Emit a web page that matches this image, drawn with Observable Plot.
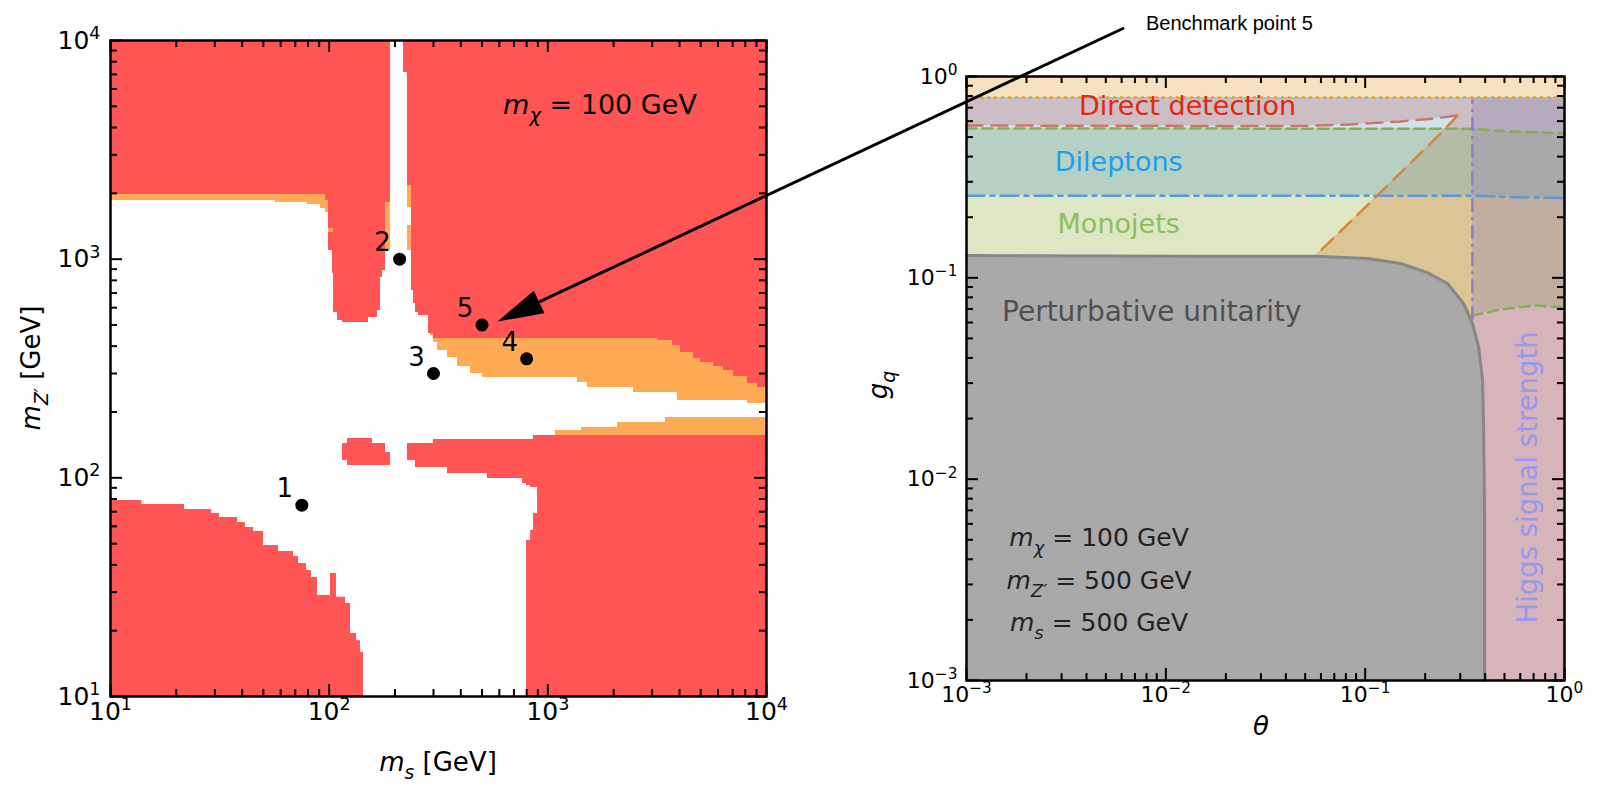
<!DOCTYPE html>
<html><head><meta charset="utf-8">
<script src="https://cdn.jsdelivr.net/npm/d3@7"></script>
<script src="https://cdn.jsdelivr.net/npm/@observablehq/plot@0.6"></script>
<style>
body{margin:0;background:#fff;}
#wrap{position:relative;width:1598px;height:785px;overflow:hidden;font-family:"DejaVu Sans",sans-serif;background:#fff;}
#left{position:absolute;left:0;top:0;}
#right{position:absolute;left:820px;top:0;}
#overlay{position:absolute;left:0;top:0;pointer-events:none;}
text{white-space:pre;}
</style></head><body>
<div id="wrap"><div id="left"></div><div id="right"></div><svg id="overlay" width="1598" height="785"></svg></div>
<script>
// ================= LEFT PANEL DATA (GeV) =================
const msDomain = [10, 1e4];
const mzDomain = [10, 1e4];
const leftTickValues = [10, 100, 1000, 10000];
const leftTickLabels = ["10^1", "10^2", "10^3", "10^4"];

// allowed (white) region: columns [m_s start, upper m_Z' edge], lower edge 10 GeV
const allowedTop = [[10,1855],[56.8,1816],[79.6,1778],[91.3,1704],[96.2,1634],[99.3,1095],[103.6,860],[104.7,570],[109.2,524],[115.1,513],[151.3,541],[166.3,582],[171.7,825],[175.4,888],[181,1095],[190.8,10000],[218.8,7139],[228.2,2172],[237.9,719],[243,627],[248.2,570],[256.2,552],[284.6,457],[290.7,448],[300.1,416],[312.9,382],[347.6,355],[386.3,323],[443,300],[502.8,288],[1367,273],[1518,259],[2465,246],[3916,226],[8186,219],[10000,219]];
// orange strips: [m_s start, lower m_Z', upper m_Z']
const orangeTopStrip = [[10,1855,1975],[56.8,1816,1975],[79.6,1778,1975],[91.3,1704,1975],[96.2,1634,1855],[99.3,1634,1634]];
// small orange cells: [m_s1, m_s2, m_Z'1, m_Z'2]
const orangeBits = [[99.3,104.7,1324,1381],[181,190.8,1095,1816],[228.2,237.9,1722,2172],[228.2,237.9,1095,1425]];
const orangeUpperBand = [[290.7,448,457],[300.1,416,434],[312.9,382,434],[347.6,355,434],[386.3,323,434],[443,300,434],[502.8,288,434],[1367,273,434],[1518,259,434],[2465,246,434],[3174,246,425],[3715,246,403],[3916,226,403],[4043,226,374],[4637,226,351],[4991,226,337],[5722,226,323],[6358,226,310],[7064,226,291],[8186,219,270],[9093,219,259],[10000,219,259]];
// excluded (red) pieces drawn over the allowed region
const redLowerLeft = [[10,78.8],[13.9,75.5],[21.8,71.6],[29,68.7],[31.5,65.9],[38.1,62.5],[41.4,59.3],[45.1,56.8],[50.1,49.0],[58.7,46.0],[68.7,43.7],[72.4,40.6],[78.8,37.7],[83.0,35.0],[88.4,29.0],[101.4,36.5],[108.0,28.4],[118.8,26.6],[125.2,19.4],[133.4,18.0],[139.1,15.9],[143.6,15.9]];
const redIsland = [[115.1,120.0,143.6],[121.3,113.8,151.3],[157.8,113.8,143.6],[181.0,113.8,130.6],[190.8,113.8,130.6]];
const redBand = [[228.2,120.0,143.6],[248.2,111.5,143.6],[300.1,111.5,149.7],[347.6,104.7,149.7],[529.7,99.3,149.7],[765.9,94.2,149.7],[799,92.2,149.7],[833.3,90.3,149.7],[859.9,90.3,156.1],[896.9,10,156.1],[10000,10,156.1]];
const redPocket = [[799,10,51.7],[833.3,10,57.4],[859.9,10,68.7],[896.9,10,68.7]];
const orangeLowerBand = [[1084,156.1,164.6],[1425,156.1,169.9],[2082,156.1,179.1],[3451,156.1,188.8],[10000,156.1,188.8]];
const benchmarks = [
  {label: "1", ms: 75, mz: 75},
  {label: "2", ms: 210, mz: 1000},
  {label: "3", ms: 300, mz: 300},
  {label: "4", ms: 800, mz: 350},
  {label: "5", ms: 500, mz: 500}
];
const leftNote = {ms: 1741, mz: 5097};

// ================= RIGHT PANEL DATA =================
const thetaDomain = [1e-3, 1];
const gqDomain = [1e-3, 1];
const rightTickValues = [0.001, 0.01, 0.1, 1];
const rightTickLabels = ["10^\u22123", "10^\u22122", "10^\u22121", "10^0"];
const gqDotted = 0.787;
const gqDottedBlue = 0.781;
const thetaHiggs = 0.345;
const ddLine = [[0.001,0.571],[0.02,0.568],[0.05,0.568],[0.0845,0.578],[0.1507,0.598],[0.2205,0.618],[0.291,0.640]];
const ddDiagonal = [[0.291,0.640],[0.253,0.552],[0.1153,0.2566],[0.0564,0.129]];
const monojetUpper = [[0.001,0.552],[0.345,0.550],[0.5,0.535],[1,0.522]];
const monojetLower = [[0.345,0.065],[0.478,0.0696],[0.70,0.0729],[1,0.0712]];
const dileptonLine = [[0.001,0.256],[0.345,0.256],[0.5,0.252],[1,0.249]];
const unitarity = [[0.001,0.129],[0.0149,0.128],[0.0564,0.128],[0.1028,0.1247],[0.1507,0.1178],[0.2056,0.1062],[0.2588,0.0937],[0.312,0.0745],[0.346,0.0593],[0.371,0.0451],[0.388,0.0309],[0.393,0.0174],[0.397,0.00675],[0.397,0.001]];
const higgsLineBottom = 0.0613;
const hiddenFloor = 0.04;
const rightLabels = [
  {text: "Direct detection", theta: 0.01285, gq: 0.7096, key: "dd", size: 27},
  {text: "Dileptons", theta: 0.0058, gq: 0.374, key: "dl", size: 27},
  {text: "Monojets", theta: 0.0058, gq: 0.184, key: "mj", size: 27},
  {text: "Perturbative unitarity", theta: 0.0085, gq: 0.068, key: "pu", size: 28}
];
const higgsLabel = {text: "Higgs signal strength", theta: 0.661, gq: 0.0102};
const paramNotes = [
  {theta: 0.00465, gq: 0.00513, sub: "\u03c7", val: "100 GeV"},
  {theta: 0.00465, gq: 0.003135, sub: "Z\u2032", val: "500 GeV"},
  {theta: 0.00465, gq: 0.00194, sub: "s", val: "500 GeV"}
];

// ================= STYLES =================
const RED = "#FF5555", ORANGE = "#FFAA55";
const C = {peach:"#F6E0BF", mauve:"#CBBEC4", lightBlue:"#CFE3EC", teal:"#B6D0C4", yellow:"#DFE6C4",
  greyGreen:"#B4BBA7", tan:"#DBC595", pink:"#D6B4BA", brown:"#C1AEA0", grey:"#A9A8AA",
  purpleGrey:"#B6AABD", unit:"#A9A9A9"};
const labelColor = {dd:"#E5260E", dl:"#1A9FF0", mj:"#8CBF5C", pu:"#505050"};
const FONT = "DejaVu Sans";

function minorOf(major) {
  const out = [];
  for (let i = 0; i < major.length - 1; i++) for (let k = 2; k <= 9; k++) out.push(major[i] * k);
  return out;
}
function tickMarks(major, fw, fh) {
  const minor = minorOf(major);
  const s = {stroke: "black", strokeWidth: 2};
  return [
    Plot.tickX(major, {x: d => d, insetTop: fh - 12, ...s}),
    Plot.tickX(major, {x: d => d, insetBottom: fh - 12, ...s}),
    Plot.tickX(minor, {x: d => d, insetTop: fh - 7, ...s}),
    Plot.tickX(minor, {x: d => d, insetBottom: fh - 7, ...s}),
    Plot.tickY(major, {y: d => d, insetRight: fw - 12, ...s}),
    Plot.tickY(major, {y: d => d, insetLeft: fw - 12, ...s}),
    Plot.tickY(minor, {y: d => d, insetRight: fw - 7, ...s}),
    Plot.tickY(minor, {y: d => d, insetLeft: fw - 7, ...s})
  ];
}
const stepArea = (data, fill) => Plot.areaY(data, {x: d => d[0], y1: d => d[1], y2: d => d[2], curve: "step-after", fill});
const stepAreaFromFloor = (data, fill) => Plot.areaY(data, {x: d => d[0], y1: msDomain[0], y2: d => d[1], curve: "step-after", fill});
const cellRects = (data, fill) => Plot.rect(data, {x1: d => d[0], x2: d => d[1], y1: d => d[2], y2: d => d[3], fill});

// ================= LEFT PLOT =================
const LW = 800, LH = 785, Lm = {t: 40, r: 34, b: 89, l: 110};
const lfw = LW - Lm.l - Lm.r, lfh = LH - Lm.t - Lm.b;
const leftPlot = Plot.plot({
  width: LW, height: LH, marginTop: Lm.t, marginRight: Lm.r, marginBottom: Lm.b, marginLeft: Lm.l,
  x: {type: "log", domain: msDomain, axis: null},
  y: {type: "log", domain: mzDomain, axis: null},
  style: {fontFamily: FONT, fontSize: "24px", background: "transparent", overflow: "visible"},
  marks: [
    Plot.frame({fill: RED}),
    stepAreaFromFloor(allowedTop, "#ffffff"),
    stepArea(orangeTopStrip, ORANGE),
    cellRects(orangeBits, ORANGE),
    stepArea(orangeUpperBand, ORANGE),
    stepAreaFromFloor(redLowerLeft, RED),
    stepArea(redIsland, RED),
    stepArea(redBand, RED),
    stepArea(redPocket, RED),
    stepArea(orangeLowerBand, ORANGE),
    Plot.frame({stroke: "black", strokeWidth: 2.5}),
    ...tickMarks(leftTickValues, lfw, lfh),
    Plot.text(leftTickValues, {x: d => d, frameAnchor: "bottom", dy: 23, text: (d, i) => leftTickLabels[i], fontSize: 25, fontFamily: FONT, fill: "black"}),
    Plot.text(leftTickValues, {y: d => d, frameAnchor: "left", dx: -10, textAnchor: "end", text: (d, i) => leftTickLabels[i], fontSize: 25, fontFamily: FONT, fill: "black"}),
    Plot.dot(benchmarks, {x: "ms", y: "mz", r: 6.5, fill: "black", stroke: null}),
    Plot.text(benchmarks, {x: "ms", y: "mz", text: "label", dx: -17, dy: -16, fontSize: 26, fontFamily: FONT, fill: "black"})
  ]
});
document.getElementById("left").appendChild(leftPlot);

// ================= RIGHT PLOT =================
const RW = 778, RH = 785, Rm = {t: 76, r: 34, b: 105, l: 146};
const rfw = RW - Rm.l - Rm.r, rfh = RH - Rm.t - Rm.b;
const monoUpperRight = monojetUpper.filter(d => d[0] >= thetaHiggs);
const dileptonRight = dileptonLine.filter(d => d[0] >= thetaHiggs);
const rightPlot = Plot.plot({
  width: RW, height: RH, marginTop: Rm.t, marginRight: Rm.r, marginBottom: Rm.b, marginLeft: Rm.l,
  x: {type: "log", domain: thetaDomain, axis: null},
  y: {type: "log", domain: gqDomain, axis: null},
  style: {fontFamily: FONT, fontSize: "22px", background: "transparent", overflow: "visible"},
  marks: [
    // left of the Higgs line
    cellRects([[thetaDomain[0], thetaHiggs, 0.45, gqDotted]], C.mauve),
    Plot.areaY(ddLine, {x: d => d[0], y1: 0.45, y2: d => d[1], fill: C.lightBlue}),
    Plot.areaX(ddDiagonal.slice(0, 2), {y: d => d[1], x1: d => d[0], x2: thetaHiggs, fill: C.mauve}),
    cellRects([[thetaDomain[0], thetaHiggs, dileptonLine[0][1], monojetUpper[0][1]]], C.teal),
    cellRects([[thetaDomain[0], thetaHiggs, hiddenFloor, dileptonLine[0][1]]], C.yellow),
    Plot.areaX(ddDiagonal.slice(1, 3), {y: d => d[1], x1: d => d[0], x2: thetaHiggs, fill: C.greyGreen}),
    Plot.areaX([...ddDiagonal.slice(2, 4), [ddDiagonal[3][0], hiddenFloor]], {y: d => d[1], x1: d => d[0], x2: thetaHiggs, fill: C.tan}),
    // right of the Higgs line
    cellRects([[thetaHiggs, thetaDomain[1], gqDomain[0], gqDotted]], C.pink),
    Plot.areaY(monojetLower, {x: d => d[0], y1: d => d[1], y2: gqDotted, fill: C.brown}),
    Plot.areaY(dileptonRight, {x: d => d[0], y1: d => d[1], y2: gqDotted, fill: C.grey}),
    Plot.areaY(monoUpperRight, {x: d => d[0], y1: d => d[1], y2: gqDotted, fill: C.purpleGrey}),
    cellRects([[thetaDomain[0], thetaDomain[1], gqDotted, gqDomain[1]]], C.peach),
    // unitarity
    Plot.areaY(unitarity, {x: d => d[0], y1: gqDomain[0], y2: d => d[1], fill: C.unit}),
    Plot.line(unitarity, {x: d => d[0], y: d => d[1], stroke: "#878787", strokeWidth: 3}),
    // boundary lines
    Plot.line(monojetLower, {x: d => d[0], y: d => d[1], stroke: "#86AD55", strokeWidth: 2.5, strokeDasharray: "10,6"}),
    Plot.line(dileptonLine, {x: d => d[0], y: d => d[1], stroke: "#5B9BD5", strokeWidth: 2.5, strokeDasharray: "18,6,4,6"}),
    Plot.line(monojetUpper, {x: d => d[0], y: d => d[1], stroke: "#86AD55", strokeWidth: 2.5, strokeDasharray: "10,6"}),
    Plot.line(ddLine, {x: d => d[0], y: d => d[1], stroke: "#CD766A", strokeWidth: 2.5, strokeDasharray: "16,9"}),
    Plot.line(ddDiagonal, {x: d => d[0], y: d => d[1], stroke: "#D9843E", strokeWidth: 2.5, strokeDasharray: "16,9"}),
    Plot.ruleX([thetaHiggs], {y1: higgsLineBottom, y2: gqDotted, stroke: "#8F7FC8", strokeWidth: 2.5, strokeDasharray: "14,5,3,5"}),
    Plot.ruleY([gqDottedBlue], {stroke: "#8EC3E8", strokeWidth: 1.2}),
    Plot.ruleY([gqDotted], {stroke: "#E8A030", strokeWidth: 2.5, strokeDasharray: "3,4"}),
    // texts
    Plot.text(rightLabels, {x: "theta", y: "gq", text: "text", fill: d => labelColor[d.key], fontSize: d => d.size, fontFamily: FONT}),
    Plot.text([higgsLabel], {x: "theta", y: "gq", text: "text", rotate: -90, fill: "#9898F0", fontSize: 27.5, fontFamily: FONT}),
    Plot.frame({stroke: "black", strokeWidth: 2.5}),
    ...tickMarks(rightTickValues, rfw, rfh),
    Plot.text(rightTickValues, {x: d => d, frameAnchor: "bottom", dy: 21, text: (d, i) => rightTickLabels[i], fontSize: 22, fontFamily: FONT, fill: "black"}),
    Plot.text(rightTickValues, {y: d => d, frameAnchor: "left", dx: -9, textAnchor: "end", text: (d, i) => rightTickLabels[i], fontSize: 22, fontFamily: FONT, fill: "black"})
  ]
});
document.getElementById("right").appendChild(rightPlot);

// ================= RICH TEXT HELPERS =================
function supify(svg) {
  svg.querySelectorAll("text").forEach(t => {
    const m = t.textContent.match(/^10\^(.+)$/);
    if (m && t.children.length === 0) {
      t.textContent = "10";
      const ts = document.createElementNS("http://www.w3.org/2000/svg", "tspan");
      ts.setAttribute("dy", "-0.55em");
      ts.setAttribute("font-size", "70%");
      ts.textContent = m[1];
      t.appendChild(ts);
    }
  });
}
supify(leftPlot); supify(rightPlot);

function rich(svg, x, y, parts, size, opts = {}) {
  const {anchor = "middle", rotate = 0, fill = "#000"} = opts;
  const t = d3.select(svg).append("text")
    .attr("transform", `translate(${x},${y}) rotate(${rotate})`)
    .attr("text-anchor", anchor).attr("fill", fill)
    .attr("font-family", FONT).attr("font-size", size)
    .attr("y", 0.36 * size).style("white-space", "pre");
  let shift = 0;
  for (const p of parts) {
    const target = p.sub ? 0.3 * size : 0;
    const ts = t.append("tspan").text(p.t);
    if (target !== shift) { ts.attr("dy", target - shift); shift = target; }
    if (p.sub) ts.attr("font-size", 0.72 * size);
    if (p.i) ts.attr("font-style", "italic");
  }
  return t;
}

// left panel texts
const lx = leftPlot.scale("x"), ly = leftPlot.scale("y");
rich(leftPlot, lx.apply(leftNote.ms), ly.apply(leftNote.mz), [{t: "m", i: true}, {t: "\u03c7", i: true, sub: true}, {t: " = 100 GeV"}], 27);
rich(leftPlot, Lm.l + lfw / 2, 762, [{t: "m", i: true}, {t: "s", i: true, sub: true}, {t: " [GeV]"}], 26);
rich(leftPlot, 31, Lm.t + lfh / 2, [{t: "m", i: true}, {t: "Z\u2032", i: true, sub: true}, {t: " [GeV]"}], 26, {rotate: -90});

// right panel texts
const rx = rightPlot.scale("x"), ry = rightPlot.scale("y");
for (const p of paramNotes) {
  rich(rightPlot, rx.apply(p.theta), ry.apply(p.gq), [{t: "m", i: true}, {t: p.sub, i: true, sub: true}, {t: " = " + p.val}], 25, {fill: "#222"});
}
rich(rightPlot, Rm.l + rfw / 2 - 4, 726, [{t: "\u03b8", i: true}], 26);
rich(rightPlot, 58, 385, [{t: "g", i: true}, {t: "q", i: true, sub: true}], 26, {rotate: -90});

// ================= ARROW OVERLAY =================
const ov = d3.select("#overlay");
const bp5 = benchmarks[4];
const tip = [lx.apply(bp5.ms) + 16, ly.apply(bp5.mz) - 3];
const start = [1124, 28];
const vx = start[0] - tip[0], vy = start[1] - tip[1];
const len = Math.hypot(vx, vy), ux = vx / len, uy = vy / len;
const headL = 46, headW = 12.5;
const base = [tip[0] + ux * headL, tip[1] + uy * headL];
ov.append("line").attr("x1", start[0]).attr("y1", start[1]).attr("x2", base[0]).attr("y2", base[1])
  .attr("stroke", "black").attr("stroke-width", 3);
ov.append("path").attr("d", `M${tip[0]},${tip[1]}L${base[0] - uy * headW},${base[1] + ux * headW}L${base[0] + uy * headW},${base[1] - ux * headW}Z`)
  .attr("fill", "black");
ov.append("text").attr("x", 1146).attr("y", 23).attr("dy", "0.35em").attr("font-family", "Liberation Sans")
  .attr("font-size", 20).attr("fill", "black").text("Benchmark point 5");
</script>
</body></html>
